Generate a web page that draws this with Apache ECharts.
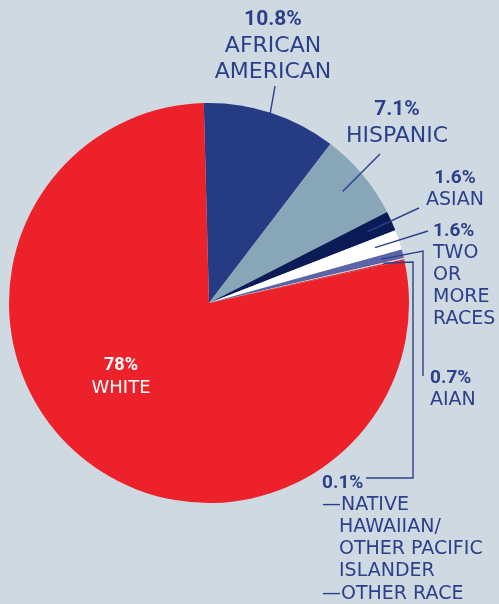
<!DOCTYPE html>
<html>
<head>
<meta charset="utf-8">
<script src="https://cdn.jsdelivr.net/npm/echarts@6/dist/echarts.min.js"></script>
<style>
  html, body { margin: 0; padding: 0; background: #cfd9e2; }
  #chart { width: 499px; height: 604px; }
</style>
</head>
<body>
<div id="chart"></div>
<script>
// Population share by race / ethnicity
const categories = ['African American', 'Hispanic', 'Asian', 'Two or more races', 'AIAN',
  'Native Hawaiian/Other Pacific Islander', 'Other race', 'White'];
const shares = [10.8, 7.1, 1.6, 1.6, 0.7, 0.1, 0.1, 78];
const shareLabels = ['10.8%', '7.1%', '1.6%', '1.6%', '0.7%', '0.1%', '', '78%'];
const nameLines = [
  ['AFRICAN', 'AMERICAN'],
  ['HISPANIC'],
  ['ASIAN'],
  ['TWO', 'OR', 'MORE', 'RACES'],
  ['AIAN'],
  ['—NATIVE', 'HAWAIIAN/', 'OTHER PACIFIC', 'ISLANDER'],
  ['—OTHER RACE'],
  ['WHITE']
];
const sliceColors = ['#253c84', '#87a6b8', '#0b1b57', '#ffffff', '#5b65a5', '#f3c9cd', '#c8232c', '#ed2129'];

const CX = 209, CY = 303, R = 200, START = 91.5;
const INK = '#2c3f8b';
const NAME_FONT = '"DejaVu Sans", sans-serif';
const PCT_FONT = 'Roboto, Lato, "DejaVu Sans", sans-serif';

// where each label block sits and how its leader line bends
const labelSpots = [
  { x: 273, y: 7,   align: 'center', kind: 'top',  depth: 0.99,  bends: [[275, 86]] },
  { x: 397, y: 97,  align: 'center', kind: 'top',  depth: 0.87,  bends: [[380, 154]] },
  { x: 455, y: 167, align: 'center', kind: 'side', depth: 0.87,  bends: [[419, 208]] },
  { x: 433, y: 220, align: 'left',   kind: 'side', depth: 0.875, bends: [[428, 231]] },
  { x: 430, y: 367, align: 'left',   kind: 'side', depth: 0.89,  bends: [[423, 251], [423, 376]] },
  { x: 322, y: 472, align: 'left',   kind: 'side', depth: 0.895, bends: [[413, 262], [413, 478], [366, 478]] },
  { x: 322, y: 583, align: 'left',   kind: 'side', depth: 0, bends: null },
  { x: 121, y: 354, align: 'center', kind: 'white', depth: 0, bends: null }
];

function labelText(i) {
  const kind = labelSpots[i].kind;
  const p = kind === 'top' ? 'tp' : kind === 'side' ? 'sp' : 'wp';
  const n = kind === 'top' ? 'tn' : kind === 'side' ? 'sn' : 'wn';
  const rows = [];
  if (shareLabels[i]) rows.push('{' + p + '|' + shareLabels[i] + '}');
  nameLines[i].forEach(function (line, j) {
    const indented = i === 5 && j > 0;
    rows.push('{' + (indented ? 'si' : n) + '|' + line + '}');
  });
  return rows.join('\n');
}

const sliceData = categories.map(function (name, i) {
  return { name: name, value: shares[i], itemStyle: { color: sliceColors[i] } };
});

// an invisible copy of the pie, stacked above, carries the labels and leader lines
const labelData = categories.map(function (name, i) {
  const item = { name: name, value: shares[i] };
  if (!labelSpots[i].bends) item.labelLine = { show: false };
  return item;
});

const chart = echarts.init(document.getElementById('chart'), null, { renderer: 'canvas' });
chart.setOption({
  backgroundColor: '#cfd9e2',
  animation: false,
  series: [{
    type: 'pie',
    z: 2,
    center: [CX, CY],
    radius: [0, R],
    startAngle: START,
    clockwise: true,
    silent: true,
    itemStyle: { borderWidth: 0 },
    label: { show: false },
    labelLine: { show: false },
    data: sliceData
  }, {
    type: 'pie',
    z: 5,
    center: [CX, CY],
    radius: [0, R],
    startAngle: START,
    clockwise: true,
    avoidLabelOverlap: false,
    silent: true,
    itemStyle: { color: 'rgba(0,0,0,0)', borderWidth: 0 },
    data: labelData,
    label: {
      show: true,
      position: 'outside',
      formatter: function (p) { return labelText(p.dataIndex); },
      rich: {
        tp: { fontFamily: PCT_FONT, fontWeight: 'bold', fontSize: 21, lineHeight: 26, color: INK },
        tn: { fontFamily: NAME_FONT, fontSize: 22, lineHeight: 26, color: INK },
        sp: { fontFamily: PCT_FONT, fontWeight: 'bold', fontSize: 19, lineHeight: 22, color: INK },
        sn: { fontFamily: NAME_FONT, fontSize: 19, lineHeight: 22, color: INK },
        si: { fontFamily: NAME_FONT, fontSize: 19, lineHeight: 22, color: INK, padding: [0, 0, 0, 17] },
        wp: { fontFamily: PCT_FONT, fontWeight: 'bold', fontSize: 18, lineHeight: 23, color: '#ffffff' },
        wn: { fontFamily: NAME_FONT, fontSize: 18, lineHeight: 23, color: '#ffffff' }
      }
    },
    labelLine: {
      show: true,
      showAbove: true,
      length: 10,
      length2: 10,
      lineStyle: { color: INK, width: 1.4, opacity: 1 }
    },
    labelLayout: function (p) {
      const spot = labelSpots[p.dataIndex];
      const out = { x: spot.x, y: spot.y, align: spot.align, verticalAlign: 'top' };
      if (spot.bends && p.labelLinePoints && p.labelLinePoints.length) {
        const edge = p.labelLinePoints[0];
        const start = [CX + (edge[0] - CX) * spot.depth, CY + (edge[1] - CY) * spot.depth];
        out.labelLinePoints = [start].concat(spot.bends);
      }
      return out;
    }
  }]
});
</script>
</body>
</html>
